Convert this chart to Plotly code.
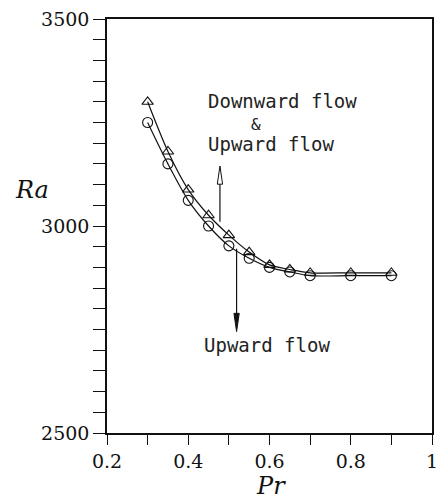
import plotly.graph_objects as go

# Critical Rayleigh number vs Prandtl number
pr_values = [0.3, 0.35, 0.4, 0.45, 0.5, 0.55, 0.6, 0.65, 0.7, 0.8, 0.9]
ra_downward = [3300, 3180, 3088, 3026, 2978, 2937, 2906, 2895, 2887, 2887, 2887]
ra_upward = [3250, 3150, 3062, 3000, 2952, 2922, 2900, 2889, 2880, 2880, 2880]

x_ticks = [0.2, 0.4, 0.6, 0.8, 1]
y_ticks = [2500, 3000, 3500]

# arrow anchors (data units): x, tail, tip
up_arrow = (0.478, 3010, 3145)
down_arrow = (0.519, 2945, 2745)

serif = "DejaVu Serif"
mono = "DejaVu Sans Mono"
ink = "#111111"

fig = go.Figure()

fig.add_trace(go.Scatter(
    x=pr_values, y=ra_downward, mode="lines+markers",
    line=dict(color=ink, width=1.2, shape="spline", smoothing=0.8),
    marker=dict(symbol="triangle-up-open", size=10, color=ink, line=dict(width=1.1)),
    showlegend=False,
))
fig.add_trace(go.Scatter(
    x=pr_values, y=ra_upward, mode="lines+markers",
    line=dict(color=ink, width=1.2, shape="spline", smoothing=0.8),
    marker=dict(symbol="circle-open", size=10, color=ink, line=dict(width=1.1)),
    showlegend=False,
))

# arrows drawn as a shaft plus a narrow head
def arrow(x, y0, y1, filled):
    hw = 0.0065
    hl = 44 if y1 > y0 else -44
    fig.add_shape(type="line", x0=x, x1=x, y0=y0, y1=y1 - hl * 0.6,
                  line=dict(color=ink, width=1.2))
    fig.add_shape(type="path",
                  path=f"M {x - hw} {y1 - hl} L {x} {y1} L {x + hw} {y1 - hl} Z",
                  fillcolor=ink if filled else "white",
                  line=dict(color=ink, width=1))

arrow(*up_arrow, filled=False)
arrow(*down_arrow, filled=True)

text_font = dict(family=mono, size=19, color="#222222")
fig.add_annotation(x=0.445, y=3303, text="Downward flow", showarrow=False,
                   xanchor="left", font=text_font, borderpad=0)
fig.add_annotation(x=0.567, y=3245, text="&", showarrow=False,
                   font=dict(family=mono, size=16, color="#222222"), borderpad=0)
fig.add_annotation(x=0.445, y=3198, text="Upward flow", showarrow=False,
                   xanchor="left", font=text_font, borderpad=0)
fig.add_annotation(x=0.437, y=2712, text="Upward flow", showarrow=False,
                   xanchor="left", font=text_font, borderpad=0)

# axis titles
fig.add_annotation(xref="paper", yref="paper", x=-0.23, y=0.588,
                   text="<i>Ra</i>", showarrow=False,
                   xanchor="center", yanchor="middle",
                   font=dict(family=serif, size=24, color=ink))
fig.add_annotation(xref="paper", yref="paper", x=0.505, y=-0.128,
                   text="<i>Pr</i>", showarrow=False,
                   xanchor="center", yanchor="middle",
                   font=dict(family=serif, size=24, color=ink))

fig.update_xaxes(
    range=[0.2, 1.0], tickvals=x_ticks, ticktext=[str(v) for v in x_ticks],
    ticks="outside", ticklen=10, tickwidth=1.3, tickcolor=ink,
    minor=dict(dtick=0.1, tick0=0.2, ticks="outside", ticklen=10, tickwidth=1.3, tickcolor=ink),
    showline=True, linecolor=ink, linewidth=1.5, mirror=True,
    showgrid=False, zeroline=False,
    tickfont=dict(family=serif, size=19, color=ink),
)
fig.update_yaxes(
    range=[2500, 3500], tickvals=y_ticks,
    ticks="outside", ticklen=12, tickwidth=1.3, tickcolor=ink,
    minor=dict(dtick=50, tick0=2500, ticks="outside", ticklen=12, tickwidth=1.3, tickcolor=ink),
    showline=True, linecolor=ink, linewidth=1.5, mirror=True,
    showgrid=False, zeroline=False,
    tickfont=dict(family=serif, size=19, color=ink),
)

fig.update_layout(
    width=446, height=502,
    margin=dict(l=107, r=8, t=16, b=69),
    plot_bgcolor="white", paper_bgcolor="white",
)

fig.write_html("out.html")
